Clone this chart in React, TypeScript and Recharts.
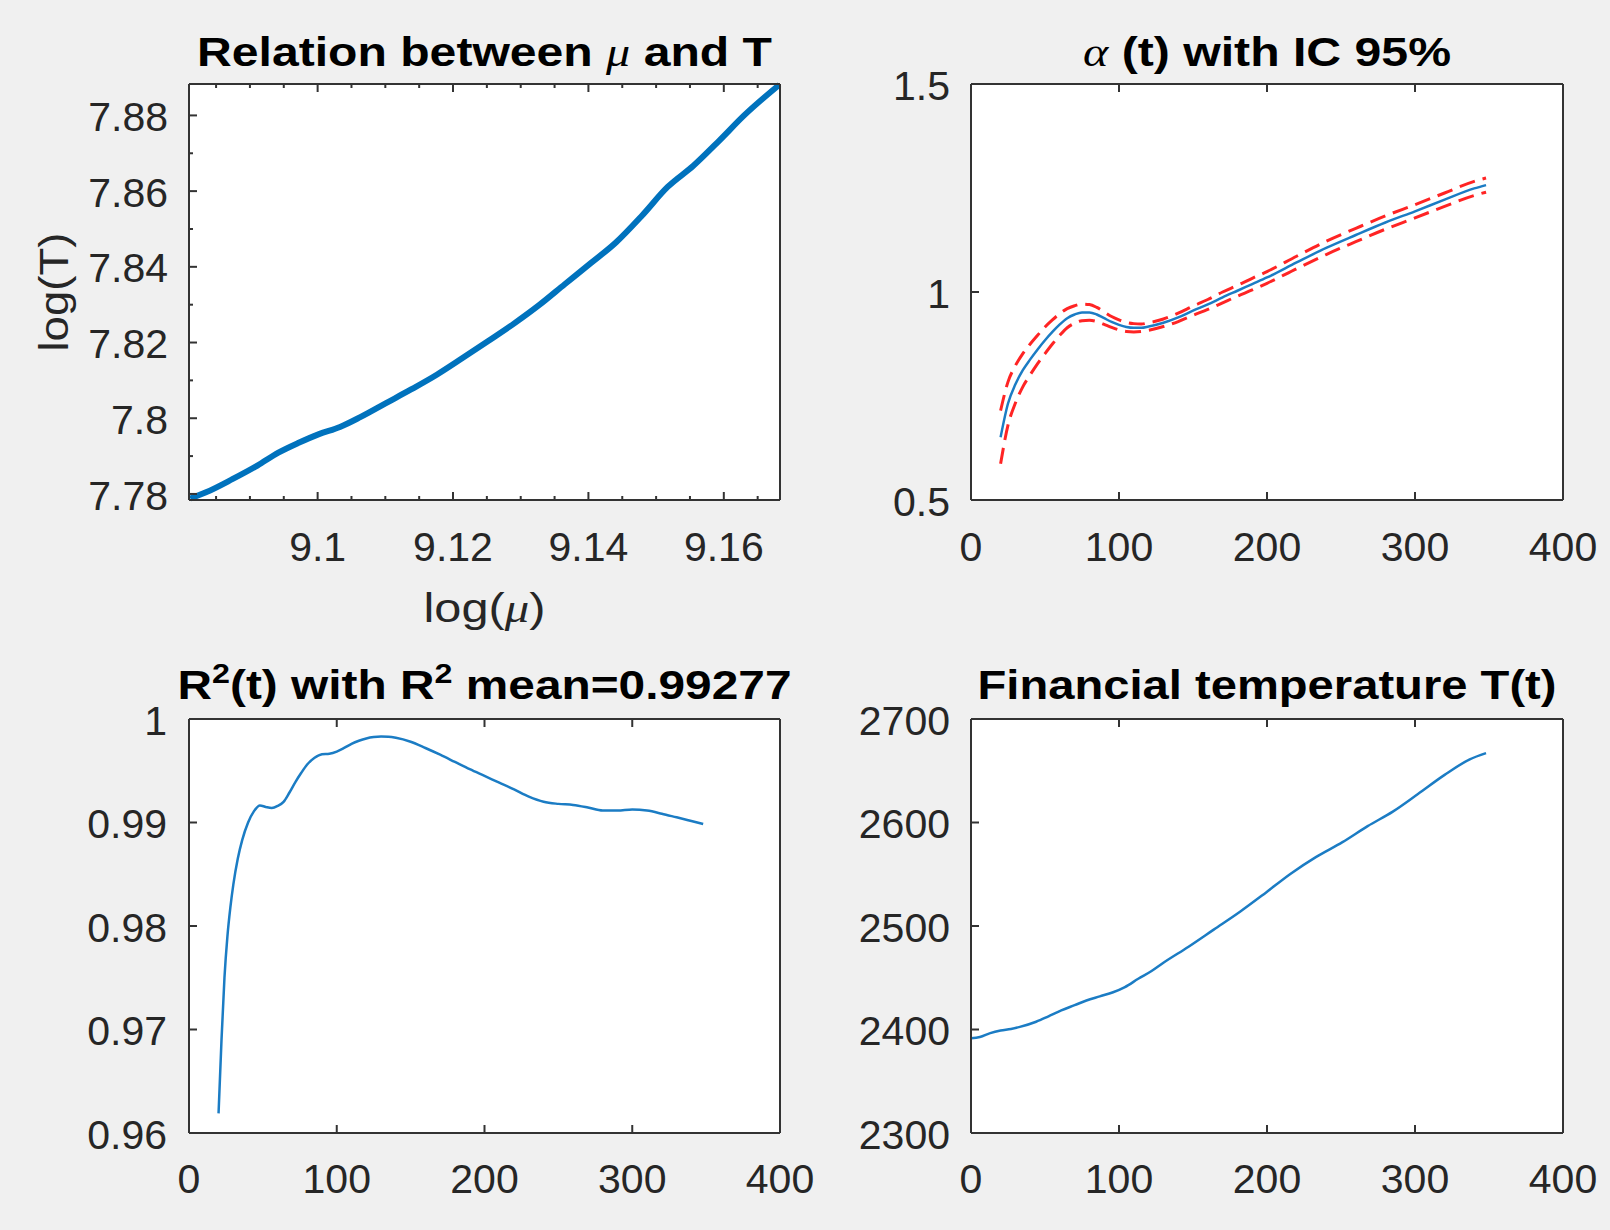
import React from 'react';
import { LineChart, Line, XAxis, YAxis, CartesianGrid, Label } from 'recharts';

// ---- Panel 1: log(T) against log(mu) ----
const LOG_MU = [9.0812, 9.0836, 9.0874, 9.0911, 9.0942, 9.0972, 9.1002, 9.1033, 9.1063, 9.1101, 9.1138, 9.1176, 9.1214, 9.1252, 9.129, 9.1328, 9.1365, 9.1403, 9.1441, 9.1479, 9.1517, 9.1555, 9.1593, 9.163, 9.1682];
const LOG_T = [7.7788, 7.7805, 7.7839, 7.7875, 7.7909, 7.7935, 7.7958, 7.7977, 7.8003, 7.804, 7.8076, 7.8115, 7.8159, 7.8204, 7.825, 7.83, 7.8354, 7.8409, 7.8465, 7.8535, 7.8611, 7.8667, 7.8733, 7.88, 7.8881];
const MU_X_MAJOR = [9.1, 9.12, 9.14, 9.16];
const MU_X_MINOR = [9.085, 9.09, 9.095, 9.105, 9.11, 9.115, 9.125, 9.13, 9.135, 9.145, 9.15, 9.155, 9.165];
const MU_Y_MAJOR = [7.78, 7.8, 7.82, 7.84, 7.86, 7.88];
const MU_Y_MINOR = [7.79, 7.81, 7.83, 7.85, 7.87];

// ---- Panel 2: alpha(t) with its 95% band ----
const ALPHA_T = [20, 25, 30, 35, 40, 45, 50, 55, 60, 65, 70, 75, 80, 85, 90, 95, 100, 105, 110, 115, 120, 130, 140, 150, 160, 170, 180, 190, 200, 220, 240, 260, 280, 300, 320, 340, 348];
const ALPHA = [0.651, 0.732, 0.778, 0.812, 0.838, 0.862, 0.884, 0.904, 0.922, 0.937, 0.946, 0.951, 0.951, 0.946, 0.937, 0.928, 0.921, 0.916, 0.914, 0.914, 0.917, 0.926, 0.939, 0.955, 0.97, 0.987, 1.003, 1.019, 1.035, 1.071, 1.106, 1.137, 1.167, 1.194, 1.222, 1.249, 1.257];
const ALPHA_UP = [0.715, 0.784, 0.823, 0.852, 0.875, 0.896, 0.916, 0.933, 0.948, 0.96, 0.967, 0.971, 0.97, 0.963, 0.952, 0.941, 0.933, 0.927, 0.924, 0.923, 0.926, 0.935, 0.949, 0.966, 0.982, 1.0, 1.016, 1.033, 1.049, 1.086, 1.122, 1.153, 1.183, 1.21, 1.238, 1.266, 1.274];
const ALPHA_LO = [0.587, 0.68, 0.733, 0.772, 0.801, 0.828, 0.852, 0.875, 0.896, 0.914, 0.925, 0.931, 0.932, 0.929, 0.922, 0.915, 0.909, 0.905, 0.904, 0.905, 0.908, 0.917, 0.929, 0.944, 0.958, 0.974, 0.99, 1.005, 1.021, 1.056, 1.09, 1.121, 1.151, 1.178, 1.206, 1.232, 1.24];
const ALPHA_Y_TICKS = [0.5, 1, 1.5];

// ---- Panel 3: R^2(t) ----
const R2_T = [20, 22, 24, 26, 28, 30, 33, 36, 40, 44, 48, 52, 56, 60, 64, 68, 72, 76, 80, 85, 90, 95, 100, 105, 110, 115, 120, 125, 130, 135, 140, 150, 160, 170, 180, 190, 200, 210, 220, 230, 240, 250, 260, 270, 280, 290, 300, 310, 320, 330, 340, 348];
const R2 = [0.9619, 0.969, 0.975, 0.979, 0.9818, 0.984, 0.9865, 0.9883, 0.99, 0.9911, 0.99165, 0.9915, 0.9914, 0.9916, 0.992, 0.9929, 0.9939, 0.9948, 0.9956, 0.99625, 0.9966, 0.99665, 0.99685, 0.9972, 0.9976, 0.9979, 0.99812, 0.99825, 0.9983, 0.99828, 0.99818, 0.9978, 0.9972, 0.99655, 0.99585, 0.99515, 0.9945, 0.99385, 0.9932, 0.9925, 0.992, 0.9918, 0.9917, 0.99145, 0.99115, 0.99115, 0.99125, 0.99115, 0.99085, 0.9905, 0.99015, 0.98985];
const R2_Y_TICKS = [0.96, 0.97, 0.98, 0.99, 1];

// ---- Panel 4: financial temperature T(t) ----
const TEMP_T = [0, 6, 13, 20, 27, 33, 44, 52, 61, 70, 78, 87, 96, 104, 113, 122, 130, 147, 164, 182, 199, 216, 233, 251, 268, 285, 302, 320, 337, 348];
const TEMP = [2391.5, 2392.7, 2396.5, 2399, 2400.5, 2402.5, 2407.5, 2412.5, 2418.5, 2423.5, 2428, 2432, 2436, 2441, 2449, 2456.5, 2464.5, 2480, 2496.5, 2514, 2532, 2550.5, 2566.5, 2581, 2596.5, 2610.5, 2627.5, 2646, 2661, 2667];
const TEMP_Y_TICKS = [2300, 2400, 2500, 2600, 2700];

const T_X_TICKS = [0, 100, 200, 300, 400];

const muData = LOG_MU.map((m, i) => ({ logMu: m, logT: LOG_T[i] }));
const alphaData = ALPHA_T.map((t, i) => ({ t, alpha: ALPHA[i], up: ALPHA_UP[i], lo: ALPHA_LO[i] }));
const r2Data = R2_T.map((t, i) => ({ t, r2: R2[i] }));
const tempData = TEMP_T.map((t, i) => ({ t, temp: TEMP[i] }));

const FONT = '"Liberation Sans", Arial, Helvetica, sans-serif';
const GREEK = '"Liberation Serif", "Times New Roman", serif';
const INK = '#262626';
const FRAME = '#333333';
const BLUE = '#0072BD';
const LINE_BLUE = '#1b7cc4';
const RED = '#ff2424';
const AXIS_LINE = { stroke: FRAME, strokeWidth: 2 };
const TICK_FONT = 41;

type Side = 'left' | 'right' | 'top' | 'bottom';

const isMajor = (v: number, majors: number[]) => majors.some((m) => Math.abs(m - v) < 1e-9);

// Inward-pointing tick marks (box style), with labels only on the major ticks.
function makeTick(side: Side, margin: number, majors: number[], showLabels: boolean) {
  return (p: any) => {
    const v = Number(p.payload.value);
    const major = isMajor(v, majors);
    const len = major ? 8 : 4;
    const stroke = { stroke: FRAME, strokeWidth: 2 };
    let mark: React.ReactNode = null;
    let label: React.ReactNode = null;
    const textProps = { fontFamily: FONT, fontSize: TICK_FONT, fill: INK };
    if (side === 'left') {
      const ax = p.x + margin;
      mark = <line x1={ax} y1={p.y} x2={ax + len} y2={p.y} {...stroke} />;
      if (showLabels && major) label = <text x={p.x} y={p.y} dy="0.38em" textAnchor="end" {...textProps}>{String(v)}</text>;
    } else if (side === 'right') {
      const ax = p.x - margin;
      mark = <line x1={ax} y1={p.y} x2={ax - len} y2={p.y} {...stroke} />;
    } else if (side === 'bottom') {
      const ay = p.y - margin;
      mark = <line x1={p.x} y1={ay} x2={p.x} y2={ay - len} {...stroke} />;
      if (showLabels && major) label = <text x={p.x} y={p.y} dy="0.71em" textAnchor="middle" {...textProps}>{String(v)}</text>;
    } else {
      const ay = p.y + margin;
      mark = <line x1={p.x} y1={ay} x2={p.x} y2={ay + len} {...stroke} />;
    }
    return <g>{mark}{label}</g>;
  };
}

function titleContent(parts: React.ReactNode, textWidth: number, fromBottom: number) {
  return (props: any) => {
    const vb = props.viewBox;
    return (
      <text
        x={vb.x + vb.width / 2}
        y={vb.y + vb.height - fromBottom}
        textAnchor="middle"
        fontFamily={FONT}
        fontWeight="bold"
        fontSize={40}
        fill="#000"
        textLength={textWidth}
        lengthAdjust="spacingAndGlyphs"
        style={{ whiteSpace: 'pre' }}
      >
        {parts}
      </text>
    );
  };
}

const greek = (ch: string) => (
  <tspan fontFamily={GREEK} fontStyle="italic" fontWeight="normal">{ch}</tspan>
);

const SUP_SHIFT = 16;
const SUP_SIZE = 27;

const r2Title = (
  <>
    R
    <tspan dy={-SUP_SHIFT} fontSize={SUP_SIZE}>2</tspan>
    <tspan dy={SUP_SHIFT}>(t) with R</tspan>
    <tspan dy={-SUP_SHIFT} fontSize={SUP_SIZE}>2</tspan>
    <tspan dy={SUP_SHIFT}>{' mean=0.99277'}</tspan>
  </>
);

const xLabelMu = (props: any) => {
  const vb = props.viewBox;
  return (
    <text x={vb.x + vb.width / 2} y={vb.y + 122} textAnchor="middle" fontFamily={FONT} fontSize={41} fill={INK}
      textLength={122} lengthAdjust="spacingAndGlyphs">
      log({greek('μ')})
    </text>
  );
};

const yLabelT = (props: any) => {
  const vb = props.viewBox;
  const x = vb.x + 68;
  const y = vb.y + vb.height / 2;
  return (
    <text x={x} y={y} transform={`rotate(-90 ${x} ${y})`} textAnchor="middle" fontFamily={FONT} fontSize={41} fill={INK}
      textLength={119} lengthAdjust="spacingAndGlyphs">
      log(T)
    </text>
  );
};

const panelStyle = (left: number, top: number): React.CSSProperties => ({ position: 'absolute', left, top });
const ZERO = { top: 0, right: 0, bottom: 0, left: 0 };
const DASH = '16 8';

export default function App() {
  const muTicksX = [...MU_X_MINOR, ...MU_X_MAJOR].sort((a, b) => a - b);
  const muTicksY = [...MU_Y_MINOR, ...MU_Y_MAJOR].sort((a, b) => a - b);
  const muXDomain: [number, number] = [9.081, 9.1683];
  const muYDomain: [number, number] = [7.7784, 7.8883];

  return (
    <div style={{ position: 'absolute', left: 0, top: 0, width: 1610, height: 1230, background: '#f0f0f0', overflow: 'hidden' }}>
      {/* Relation between mu and T */}
      <div style={panelStyle(0, 0)}>
        <LineChart width={805} height={640} data={muData} margin={ZERO}>
          <CartesianGrid horizontal={false} vertical={false} fill="#ffffff" />
          <XAxis dataKey="logMu" type="number" domain={muXDomain} ticks={muTicksX} interval={0} height={140}
            tickSize={0} tickMargin={32} tickLine={false} axisLine={AXIS_LINE} tick={makeTick('bottom', 32, MU_X_MAJOR, true)}>
            <Label content={xLabelMu} />
          </XAxis>
          <XAxis xAxisId="top" orientation="top" dataKey="logMu" type="number" domain={muXDomain} ticks={muTicksX} interval={0} height={84}
            tickSize={0} tickMargin={4} tickLine={false} axisLine={AXIS_LINE} tick={makeTick('top', 4, MU_X_MAJOR, false)}>
            <Label content={titleContent(<>Relation between {greek('μ')} and T</>, 575, 18)} />
          </XAxis>
          <YAxis type="number" domain={muYDomain} ticks={muTicksY} interval={0} width={189}
            tickSize={0} tickMargin={21} tickLine={false} axisLine={AXIS_LINE} tick={makeTick('left', 21, MU_Y_MAJOR, true)}>
            <Label content={yLabelT} />
          </YAxis>
          <YAxis yAxisId="right" orientation="right" type="number" domain={muYDomain} ticks={muTicksY} interval={0} width={25}
            tickSize={0} tickMargin={4} tickLine={false} axisLine={AXIS_LINE} tick={makeTick('right', 4, MU_Y_MAJOR, false)} />
          <Line dataKey="logT" type="monotone" stroke={BLUE} strokeWidth={6} dot={false} isAnimationActive={false} />
        </LineChart>
      </div>

      {/* alpha(t) with IC 95% */}
      <div style={panelStyle(805, 0)}>
        <LineChart width={805} height={640} data={alphaData} margin={ZERO}>
          <CartesianGrid horizontal={false} vertical={false} fill="#ffffff" />
          <XAxis dataKey="t" type="number" domain={[0, 400]} ticks={T_X_TICKS} interval={0} height={140}
            tickSize={0} tickMargin={32} tickLine={false} axisLine={AXIS_LINE} tick={makeTick('bottom', 32, T_X_TICKS, true)} />
          <XAxis xAxisId="top" orientation="top" dataKey="t" type="number" domain={[0, 400]} ticks={T_X_TICKS} interval={0} height={84}
            tickSize={0} tickMargin={4} tickLine={false} axisLine={AXIS_LINE} tick={makeTick('top', 4, T_X_TICKS, false)}>
            <Label content={titleContent(<>{greek('α')} (t) with IC 95%</>, 368, 18)} />
          </XAxis>
          <YAxis type="number" domain={[0.5, 1.5]} ticks={ALPHA_Y_TICKS} interval={0} width={166}
            tickSize={0} tickMargin={21} tickLine={false} axisLine={AXIS_LINE} tick={makeTick('left', 21, ALPHA_Y_TICKS, true)} />
          <YAxis yAxisId="right" orientation="right" type="number" domain={[0.5, 1.5]} ticks={ALPHA_Y_TICKS} interval={0} width={47}
            tickSize={0} tickMargin={4} tickLine={false} axisLine={AXIS_LINE} tick={makeTick('right', 4, ALPHA_Y_TICKS, false)} />
          <Line dataKey="up" type="monotone" stroke={RED} strokeWidth={3} strokeDasharray={DASH} dot={false} isAnimationActive={false} />
          <Line dataKey="lo" type="monotone" stroke={RED} strokeWidth={3} strokeDasharray={DASH} dot={false} isAnimationActive={false} />
          <Line dataKey="alpha" type="monotone" stroke={LINE_BLUE} strokeWidth={2.5} dot={false} isAnimationActive={false} />
        </LineChart>
      </div>

      {/* R^2(t) */}
      <div style={panelStyle(0, 640)}>
        <LineChart width={845} height={590} data={r2Data} margin={ZERO}>
          <CartesianGrid horizontal={false} vertical={false} fill="#ffffff" />
          <XAxis dataKey="t" type="number" domain={[0, 400]} ticks={T_X_TICKS} interval={0} height={97}
            tickSize={0} tickMargin={31} tickLine={false} axisLine={AXIS_LINE} tick={makeTick('bottom', 31, T_X_TICKS, true)} />
          <XAxis xAxisId="top" orientation="top" dataKey="t" type="number" domain={[0, 400]} ticks={T_X_TICKS} interval={0} height={79}
            tickSize={0} tickMargin={4} tickLine={false} axisLine={AXIS_LINE} tick={makeTick('top', 4, T_X_TICKS, false)}>
            <Label content={titleContent(r2Title, 614, 20)} />
          </XAxis>
          <YAxis type="number" domain={[0.96, 1]} ticks={R2_Y_TICKS} interval={0} width={189}
            tickSize={0} tickMargin={22} tickLine={false} axisLine={AXIS_LINE} tick={makeTick('left', 22, R2_Y_TICKS, true)} />
          <YAxis yAxisId="right" orientation="right" type="number" domain={[0.96, 1]} ticks={R2_Y_TICKS} interval={0} width={65}
            tickSize={0} tickMargin={4} tickLine={false} axisLine={AXIS_LINE} tick={makeTick('right', 4, R2_Y_TICKS, false)} />
          <Line dataKey="r2" type="monotone" stroke={LINE_BLUE} strokeWidth={2.5} dot={false} isAnimationActive={false} />
        </LineChart>
      </div>

      {/* Financial temperature T(t) */}
      <div style={panelStyle(805, 640)}>
        <LineChart width={805} height={590} data={tempData} margin={ZERO}>
          <CartesianGrid horizontal={false} vertical={false} fill="#ffffff" />
          <XAxis dataKey="t" type="number" domain={[0, 400]} ticks={T_X_TICKS} interval={0} height={97}
            tickSize={0} tickMargin={31} tickLine={false} axisLine={AXIS_LINE} tick={makeTick('bottom', 31, T_X_TICKS, true)} />
          <XAxis xAxisId="top" orientation="top" dataKey="t" type="number" domain={[0, 400]} ticks={T_X_TICKS} interval={0} height={79}
            tickSize={0} tickMargin={4} tickLine={false} axisLine={AXIS_LINE} tick={makeTick('top', 4, T_X_TICKS, false)}>
            <Label content={titleContent(<>Financial temperature T(t)</>, 579, 20)} />
          </XAxis>
          <YAxis type="number" domain={[2300, 2700]} ticks={TEMP_Y_TICKS} interval={0} width={166}
            tickSize={0} tickMargin={21} tickLine={false} axisLine={AXIS_LINE} tick={makeTick('left', 21, TEMP_Y_TICKS, true)} />
          <YAxis yAxisId="right" orientation="right" type="number" domain={[2300, 2700]} ticks={TEMP_Y_TICKS} interval={0} width={47}
            tickSize={0} tickMargin={4} tickLine={false} axisLine={AXIS_LINE} tick={makeTick('right', 4, TEMP_Y_TICKS, false)} />
          <Line dataKey="temp" type="monotone" stroke={LINE_BLUE} strokeWidth={2.5} dot={false} isAnimationActive={false} />
        </LineChart>
      </div>
    </div>
  );
}
